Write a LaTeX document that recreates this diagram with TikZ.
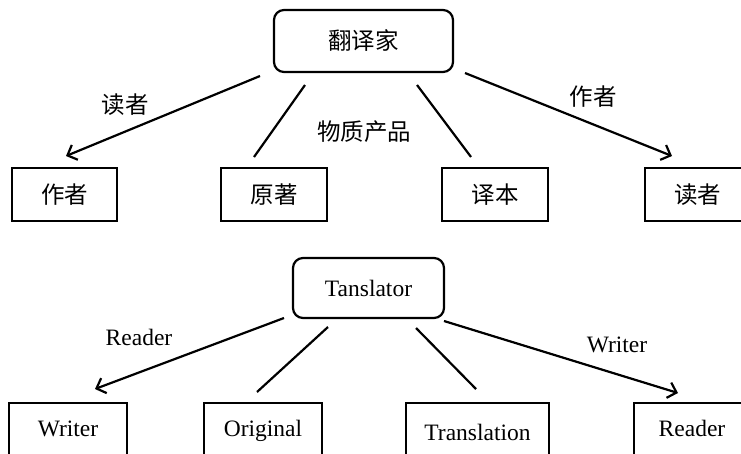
\documentclass[tikz,border=0pt]{standalone}
\usepackage{fontspec}
\setmainfont{Liberation Serif}
\newfontfamily\cjk{Noto Sans CJK SC}
\usetikzlibrary{arrows.meta}
\tikzset{
  box/.style={draw, line width=2pt, inner sep=0pt, minimum height=53pt},
  lbox/.style={box, lat, minimum height=52pt, text height=18pt, text depth=3pt},
  rbox/.style={draw, line width=2.2pt, rounded corners=10pt, inner sep=0pt},
  cjkt/.style={font=\cjk\fontsize{23.5}{26}\selectfont},
  lat/.style={font=\fontsize{23.5}{26}\selectfont},
  conn/.style={line width=2.2pt},
  arr/.style={conn, -{Straight Barb[length=8pt,width=16pt,line width=2.2pt]}},
  lbl/.style={inner sep=0pt}
}
\begin{document}
\begin{tikzpicture}[x=1pt,y=-1pt]
\useasboundingbox (0,0) rectangle (741,453);
\fill[white] (0,0) rectangle (741,453);
\clip (0,0) rectangle (741,453);
% ---- top diagram ----
\node[rbox, cjkt, minimum width=179pt, minimum height=62pt] (tr) at (363.5,41) {翻译家};
\node[box, cjkt, minimum width=105pt] (zz) at (64.5,194.5) {作者};
\node[box, cjkt, minimum width=106pt] (yz) at (274,194.5) {原著};
\node[box, cjkt, minimum width=106pt] (yb) at (495,194.5) {译本};
\node[box, cjkt, minimum width=105pt] (dz) at (697.5,194.5) {读者\hspace{10pt}};
\coordinate (a1s) at (260,76);  \coordinate (a1e) at (66,156);
\coordinate (l1s) at (305,85);  \coordinate (l1e) at (254,157);
\coordinate (l2s) at (417,85);  \coordinate (l2e) at (471,157);
\coordinate (a2s) at (465,73);  \coordinate (a2e) at (672,156);
\draw[arr] (a1s) -- (a1e);
\draw[conn] (l1s) -- (l1e);
\draw[conn] (l2s) -- (l2e);
\draw[arr] (a2s) -- (a2e);
\node[lbl, cjkt] (t1) at (125,105) {读者};
\node[lbl, cjkt] (t2) at (364,132) {物质产品};
\node[lbl, cjkt] (t3) at (593,97) {作者};
% ---- bottom diagram ----
\node[rbox, lat, minimum width=151pt, minimum height=60pt] (tl) at (368.5,288) {Tanslator};
\node[lbox, minimum width=118pt] (wr) at (68,429) {Writer};
\node[lbox, minimum width=118pt] (og) at (263,429) {Original};
\node[lbox, minimum width=143pt] (tn) at (477.5,429) {\raisebox{-4pt}{Translation}};
\node[lbox, minimum width=116pt] (rd) at (692,429) {Reader\hspace{24pt}};
\coordinate (b1s) at (284,318); \coordinate (b1e) at (95,389);
\coordinate (m1s) at (328,327); \coordinate (m1e) at (257,392);
\coordinate (m2s) at (416,328); \coordinate (m2e) at (476,389);
\coordinate (b2s) at (444,321); \coordinate (b2e) at (678,393);
\draw[arr] (b1s) -- (b1e);
\draw[conn] (m1s) -- (m1e);
\draw[conn] (m2s) -- (m2e);
\draw[arr] (b2s) -- (b2e);
\node[lbl, lat] (r1) at (139,337) {Reader};
\node[lbl, lat] (w1) at (617,345) {Writer};
\end{tikzpicture}
\end{document}
